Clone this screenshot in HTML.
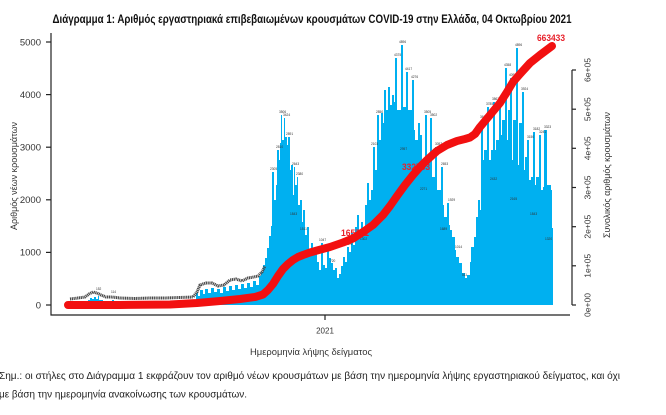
<!DOCTYPE html>
<html><head><meta charset="utf-8"><style>
html,body{margin:0;padding:0;background:#fff;}
svg{display:block;}
text{font-family:"Liberation Sans",sans-serif;}
</style></head><body>
<svg width="666" height="415" viewBox="0 0 666 415" xmlns="http://www.w3.org/2000/svg">
<rect width="666" height="415" fill="#fff"/>
<text x="52.5" y="23" font-size="11.5" font-weight="bold" fill="#111" textLength="519" lengthAdjust="spacingAndGlyphs">Διάγραμμα 1: Αριθμός εργαστηριακά επιβεβαιωμένων κρουσμάτων COVID-19 στην Ελλάδα, 04 Οκτωβρίου 2021</text>

<!-- bars -->
<path fill="#00B0F0" d="M62,305 H86 V302 H88 V300 H90 V298 H92 V299 H94 V297 H96 V299 H98 V296 H99 V300 H103 V301 H108 V302 H112 V300 H114 V303 H196
V293 H198 V296 H200 V290 H203 V294 H205 V289 H208 V293 H211 V288 H214 V292 H217 V289 H220 V293 H223 V287 H226 V291 H229 V286 H232 V290 H235 V285 H238 V289 H241 V284 H244 V288 H247 V283 H250 V287 H253 V281 H256 V285 H259 V276 H261 V272 H263 V265 H265 V258 H267 V248 H269 V236 H271 V226 H272 V172 H274 V200 H276 V185 H277 V150 H279 V160 H280 V143 H281 V115 H282 V140 H284 V118 H285 V137 H287 V145 H288 V137 H290 V170 H291 V165 H293 V195 H294 V167 H295 V185 H297 V177 H298 V205 H300 V200 H302 V222 H303 V210 H305 V235 H307 V227 H309 V250 H311 V243 H313 V255 H315 V247 H317 V262 H319 V270 H321 V243 H323 V265 H325 V268 H327 V247 H329 V258 H331 V263 H333 V270 H335 V268 H337 V278 H339 V274 H341 V266 H343 V257 H345 V262 H347 V247 H349 V252 H351 V233 H353 V245 H355 V227 H357 V215 H359 V232 H361 V222 H363 V230 H365 V205 H367 V183 H369 V200 H371 V190 H373 V147 H375 V170 H377 V115 H379 V140 H381 V113 H383 V123 H384 V90 H386 V110 H388 V87 H390 V105 H392 V95 H394 V102 H395 V58 H397 V110 H401 V45 H403 V107 H406 V72 H408 V110 H412 V80 H414 V130 H415 V140 H418 V123 H420 V135 H422 V160 H425 V115 H427 V157 H430 V118 H432 V177 H435 V147 H437 V190 H441 V167 H443 V205 H444 V217 H447 V203 H449 V225 H450 V230 H452 V237 H455 V250 H456 V257 H459 V263 H462 V273 H465 V278 H467 V275 H470 V262 H471 V247 H474 V237 H476 V217 H478 V200 H480 V210 H481 V120 H483 V160 H484 V150 H487 V107 H489 V160 H491 V150 H493 V102 H495 V150 H496 V140 H499 V100 H501 V135 H502 V120 H505 V68 H507 V140 H508 V110 H510 V78 H512 V160 H513 V120 H516 V48 H518 V165 H519 V123 H522 V92 H524 V170 H525 V157 H527 V140 H529 V180 H531 V177 H533 V132 H535 V185 H536 V177 H539 V135 H541 V190 H543 V187 H544 V130 H547 V185 H551 V190 H552 V228 H553 V305 Z"/>

<!-- tiny label rope -->
<polyline fill="none" stroke="#4a4a4a" stroke-width="3" stroke-dasharray="1.2 0.6" points="70,299 78,298 85,297 89,294 93,292 97,293 101,295 106,297 112,297 120,298 135,298.5 150,298 165,298 180,297.5 193,297 197,292 200,285 206,283 212,283 218,286 224,285 230,280 236,279 242,281 248,278 254,277 258,276 262,272 265,266"/>
<g font-size="3.2" fill="#333">
<text x="96" y="290">152</text><text x="111" y="293">114</text>
<text x="279" y="113">3506</text><text x="283" y="116">3424</text><text x="270" y="170">2305</text><text x="276" y="148">2810</text>
<text x="286" y="135">2891</text><text x="292" y="165">2643</text><text x="296" y="175">2380</text>
<text x="319" y="241">1047</text><text x="345" y="245">1124</text><text x="371" y="145">2103</text>
<text x="376" y="113">2850</text><text x="394" y="56">4375</text><text x="399" y="43">4896</text>
<text x="405" y="70">4417</text><text x="411" y="78">4276</text><text x="424" y="113">3505</text>
<text x="430" y="116">3502</text><text x="435" y="145">3057</text><text x="441" y="165">2653</text>
<text x="448" y="201">1929</text><text x="455" y="248">1014</text><text x="462" y="276">511</text>
<text x="480" y="118">3613</text><text x="486" y="105">3785</text><text x="492" y="100">3863</text>
<text x="504" y="66">4358</text><text x="509" y="76">4095</text><text x="515" y="46">4896</text>
<text x="521" y="90">3924</text><text x="527" y="138">3150</text><text x="533" y="130">3182</text>
<text x="539" y="133">3241</text><text x="544" y="128">3323</text>
<text x="290" y="215">1843</text><text x="300" y="230">1511</text><text x="330" y="262">720</text>
<text x="360" y="240">1302</text><text x="400" y="150">2957</text><text x="420" y="190">2271</text>
<text x="440" y="230">1689</text><text x="490" y="180">2432</text><text x="510" y="200">2165</text>
<text x="530" y="215">1843</text><text x="545" y="240">1320</text>
</g>

<!-- red cumulative labels -->
<g font-size="9.5" font-weight="bold" fill="#E8202A">
<text x="341" y="236" textLength="28" lengthAdjust="spacingAndGlyphs">165711</text>
<text x="402" y="170" textLength="28" lengthAdjust="spacingAndGlyphs">332733</text>
<text x="537" y="41" textLength="28" lengthAdjust="spacingAndGlyphs">663433</text>
</g>

<!-- red cumulative line -->
<polyline fill="none" stroke="#F21010" stroke-width="8" stroke-linecap="round" stroke-linejoin="round" points="68,305 120,305 170,304.5 197,303 220,301 240,299 255,297 263,294.5 268,290 273,284 278,276 283,269 288,264 293,260 298,257 303,255 310,252.5 317,250.5 330,247 343,242.5 353,238.5 363,232 373,225 383,215 390,206 397,196 405,185 413,175 420,167 427,160 437,151 447,145 457,141 465,139 470,137.5 475,134 480,127 485,121 490,115 500,103 507,92 513,82 520,74 530,63 540,55 552,46"/>

<!-- left axis -->
<g stroke="#222" stroke-width="1.2" fill="none">
<line x1="51" y1="33" x2="51" y2="315.5"/>
<line x1="50.5" y1="315" x2="570" y2="315"/>
<line x1="46" y1="42" x2="51" y2="42"/>
<line x1="46" y1="94.6" x2="51" y2="94.6"/>
<line x1="46" y1="147.2" x2="51" y2="147.2"/>
<line x1="46" y1="199.8" x2="51" y2="199.8"/>
<line x1="46" y1="252.4" x2="51" y2="252.4"/>
<line x1="46" y1="305" x2="51" y2="305"/>
<line x1="325" y1="315" x2="325" y2="320"/>
<line x1="572" y1="70" x2="572" y2="305"/>
<line x1="572" y1="70" x2="576" y2="70"/>
<line x1="572" y1="109.2" x2="576" y2="109.2"/>
<line x1="572" y1="148.3" x2="576" y2="148.3"/>
<line x1="572" y1="187.5" x2="576" y2="187.5"/>
<line x1="572" y1="226.7" x2="576" y2="226.7"/>
<line x1="572" y1="265.8" x2="576" y2="265.8"/>
<line x1="572" y1="305" x2="576" y2="305"/>
</g>
<g font-size="9.5" fill="#333" text-anchor="end">
<text x="41" y="45.5">5000</text>
<text x="41" y="98">4000</text>
<text x="41" y="150.5">3000</text>
<text x="41" y="203">2000</text>
<text x="41" y="255.5">1000</text>
<text x="41" y="308.5">0</text>
</g>
<text transform="translate(17,176) rotate(-90)" font-size="9" fill="#333" text-anchor="middle" textLength="108" lengthAdjust="spacingAndGlyphs">Αριθμός νέων κρουσμάτων</text>

<g font-size="8.5" fill="#333" text-anchor="middle">
<text transform="translate(590.5,70) rotate(-90)">6e+05</text>
<text transform="translate(590.5,109.2) rotate(-90)">5e+05</text>
<text transform="translate(590.5,148.3) rotate(-90)">4e+05</text>
<text transform="translate(590.5,187.5) rotate(-90)">3e+05</text>
<text transform="translate(590.5,226.7) rotate(-90)">2e+05</text>
<text transform="translate(590.5,265.8) rotate(-90)">1e+05</text>
<text transform="translate(590.5,305) rotate(-90)">0e+00</text>
</g>
<text transform="translate(610,175) rotate(-90)" font-size="9" fill="#333" text-anchor="middle" textLength="126" lengthAdjust="spacingAndGlyphs">Συνολικός αριθμός κρουσμάτων</text>

<text x="325" y="333.5" font-size="8" fill="#333" text-anchor="middle">2021</text>
<text x="250" y="355" font-size="9" fill="#333" textLength="122" lengthAdjust="spacingAndGlyphs">Ημερομηνία λήψης δείγματος</text>

<text x="-1" y="379" font-size="10.5" fill="#222" textLength="621" lengthAdjust="spacingAndGlyphs">Σημ.: οι στήλες στο Διάγραμμα 1 εκφράζουν τον αριθμό νέων κρουσμάτων με βάση την ημερομηνία λήψης εργαστηριακού δείγματος, και όχι</text>
<text x="-1" y="397.5" font-size="10.5" fill="#222" textLength="248" lengthAdjust="spacingAndGlyphs">με βάση την ημερομηνία ανακοίνωσης των κρουσμάτων.</text>
</svg>
</body></html>
